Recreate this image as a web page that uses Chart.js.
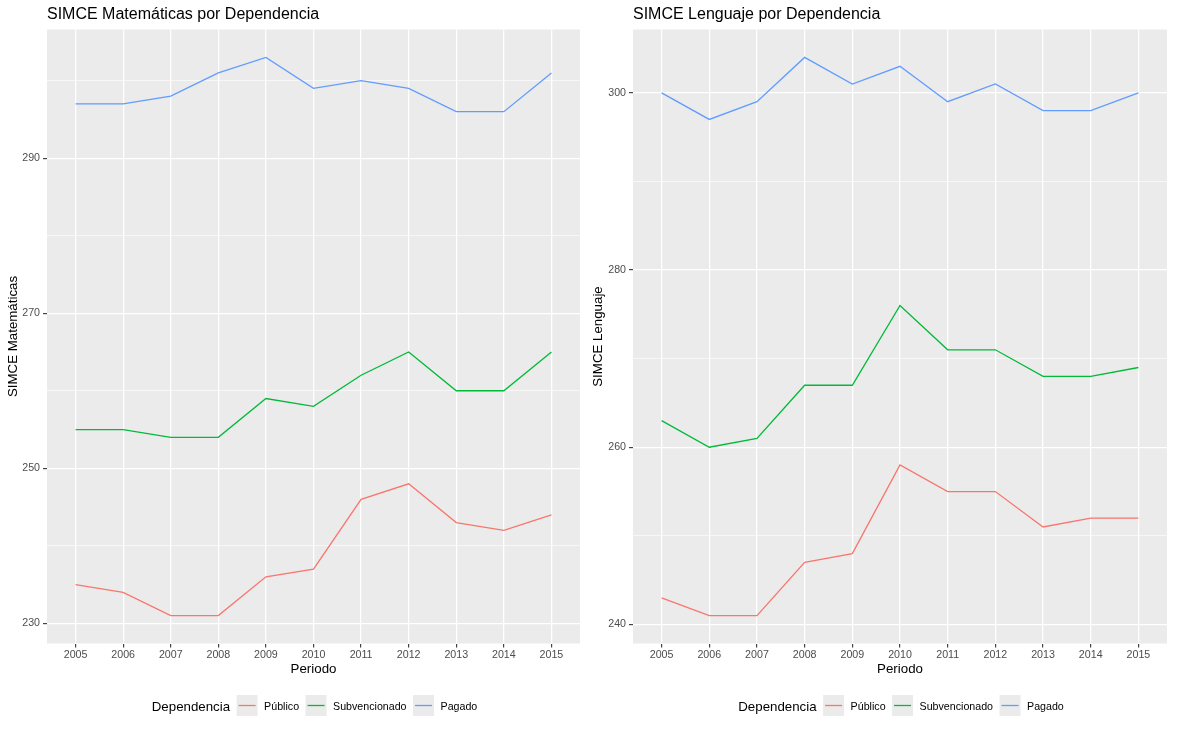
<!DOCTYPE html>
<html><head><meta charset="utf-8">
<script src="https://cdn.jsdelivr.net/npm/chart.js@4.4.0/dist/chart.umd.min.js"></script>
<style>
html,body{margin:0;padding:0;background:#fff;}
#wrap{position:relative;width:1177px;height:733px;overflow:hidden;}
.panel{position:absolute;top:0;height:733px;}
</style></head><body>
<div id="wrap">
<div class="panel" style="left:0;width:588px"><canvas id="c1"></canvas></div>
<div class="panel" style="left:588px;width:589px"><canvas id="c2"></canvas></div>
</div>
<script>
// ---- data ----
const years = [2005, 2006, 2007, 2008, 2009, 2010, 2011, 2012, 2013, 2014, 2015];
const seriesNames = ['Público', 'Subvencionado', 'Pagado'];
const seriesColors = ['#F8766D', '#00BA38', '#619CFF'];

const mathPublico       = [235, 234, 231, 231, 236, 237, 246, 248, 243, 242, 244];
const mathSubvencionado = [255, 255, 254, 254, 259, 258, 262, 265, 260, 260, 265];
const mathPagado        = [297, 297, 298, 301, 303, 299, 300, 299, 296, 296, 301];

const lengPublico       = [243, 241, 241, 247, 248, 258, 255, 255, 251, 252, 252];
const lengSubvencionado = [263, 260, 261, 267, 267, 276, 271, 271, 268, 268, 269];
const lengPagado        = [300, 297, 299, 304, 301, 303, 299, 301, 298, 298, 300];

const mathMajorTicks = [230, 250, 270, 290];
const mathMinorTicks = [240, 260, 280, 300];
const lengMajorTicks = [240, 260, 280, 300];
const lengMinorTicks = [250, 270, 290];

const FONT = '"Liberation Sans", Arial, Helvetica, sans-serif';
Chart.defaults.font.family = FONT;

const ggPlugin = {
  id: 'gg',
  beforeDraw(chart) {
    const {ctx, chartArea: a} = chart;
    ctx.save();
    ctx.fillStyle = '#EBEBEB';
    ctx.fillRect(a.left, a.top, a.right - a.left, a.bottom - a.top);
    ctx.restore();
  },
  afterDraw(chart, args, opts) {
    const {ctx, chartArea: a} = chart;
    ctx.save();
    // title
    ctx.font = '16px ' + FONT;
    ctx.fillStyle = '#000';
    ctx.textAlign = 'left';
    ctx.textBaseline = 'alphabetic';
    ctx.fillText(opts.title, a.left, 19);
    // legend
    const titleFont = '13.3px ' + FONT;
    const labelFont = '10.67px ' + FONT;
    const gap = 6.5, key = 21;
    ctx.font = titleFont;
    const tw = ctx.measureText('Dependencia').width;
    ctx.font = labelFont;
    const lw = seriesNames.map(n => ctx.measureText(n).width);
    let total = tw;
    lw.forEach(w => { total += gap + key + gap + w; });
    let x = (a.left + a.right) / 2 - total / 2 + 1;
    ctx.font = titleFont;
    ctx.fillStyle = '#000';
    ctx.fillText('Dependencia', x, 711);
    x += tw;
    seriesNames.forEach((n, i) => {
      x += gap;
      ctx.fillStyle = '#EBEBEB';
      ctx.fillRect(x, 695, key, key);
      ctx.strokeStyle = seriesColors[i];
      ctx.lineWidth = 1.3;
      ctx.beginPath();
      ctx.moveTo(x + 2, 705.5);
      ctx.lineTo(x + key - 2, 705.5);
      ctx.stroke();
      x += key + gap;
      ctx.font = labelFont;
      ctx.fillStyle = '#000';
      ctx.fillText(n, x, 709.5);
      x += lw[i];
    });
    ctx.restore();
  }
};

function makeChart(id, cfg) {
  const all = cfg.major.concat(cfg.minor).sort((p, q) => p - q);
  const isMajor = v => cfg.major.includes(v);
  return new Chart(document.getElementById(id), {
    type: 'line',
    data: {
      datasets: seriesNames.map((n, i) => ({
        label: n,
        data: years.map((yr, j) => ({x: yr, y: cfg.values[i][j]})),
        borderColor: seriesColors[i],
        backgroundColor: seriesColors[i],
        borderWidth: 1.3,
        pointRadius: 0,
        pointHoverRadius: 0,
        tension: 0,
        fill: false
      }))
    },
    options: {
      responsive: true,
      maintainAspectRatio: false,
      animation: false,
      events: [],
      layout: {padding: {top: 29.5, right: cfg.right, left: 0, bottom: 0}},
      plugins: {
        legend: {display: false},
        title: {display: false},
        tooltip: {enabled: false},
        gg: {title: cfg.title}
      },
      scales: {
        x: {
          type: 'linear',
          min: 2004.4,
          max: 2015.6,
          afterBuildTicks: s => { s.ticks = years.map(v => ({value: v})); },
          afterFit: s => { s.height = 89.5; },
          grid: {color: '#FFFFFF', lineWidth: 1.25, tickColor: '#333333', tickLength: 4, tickWidth: 1.1},
          border: {display: false},
          ticks: {color: '#4D4D4D', font: {size: 10.67}, padding: 1.5, maxRotation: 0, autoSkip: false,
                  callback: v => String(v)},
          title: {display: true, text: 'Periodo', color: '#000', font: {size: 13.3}, padding: {top: 0, bottom: 56}}
        },
        y: {
          type: 'linear',
          min: cfg.min,
          max: cfg.max,
          afterBuildTicks: s => { s.ticks = all.map(v => ({value: v})); },
          afterFit: s => { s.width = cfg.yw; },
          grid: {
            color: '#FFFFFF',
            lineWidth: c => (c.tick && isMajor(c.tick.value)) ? 1.25 : 0.6,
            tickColor: c => (c.tick && isMajor(c.tick.value)) ? '#333333' : 'rgba(0,0,0,0)',
            tickLength: 4,
            tickWidth: 1.1
          },
          border: {display: false},
          ticks: {color: '#4D4D4D', font: {size: 10.67}, padding: 3, autoSkip: false,
                  callback: v => isMajor(v) ? String(v) : ''},
          title: {display: true, text: cfg.ytitle, color: '#000', font: {size: 13.3}, padding: {top: cfg.ytp, bottom: 0}}
        }
      }
    },
    plugins: [ggPlugin]
  });
}

makeChart('c1', {
  title: 'SIMCE Matemáticas por Dependencia',
  ytitle: 'SIMCE Matemáticas',
  values: [mathPublico, mathSubvencionado, mathPagado],
  major: mathMajorTicks, minor: mathMinorTicks,
  min: 227.4, max: 306.6, yw: 47, right: 8, ytp: 5
});
makeChart('c2', {
  title: 'SIMCE Lenguaje por Dependencia',
  ytitle: 'SIMCE Lenguaje',
  values: [lengPublico, lengSubvencionado, lengPagado],
  major: lengMajorTicks, minor: lengMinorTicks,
  min: 237.85, max: 307.15, yw: 45, right: 10, ytp: 2.5
});
</script>
</body></html>
